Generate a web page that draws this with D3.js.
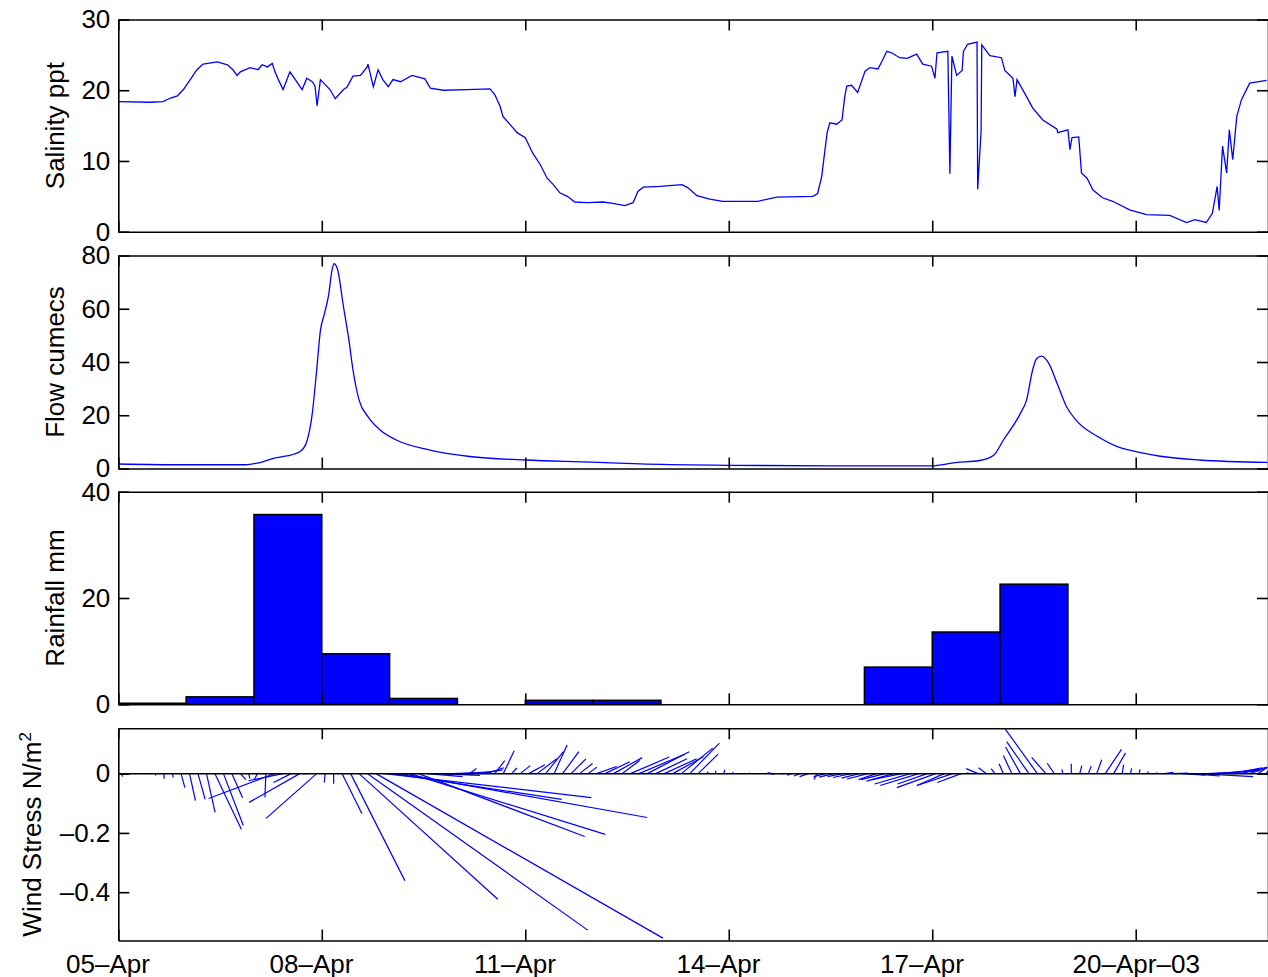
<!DOCTYPE html>
<html>
<head>
<meta charset="utf-8">
<script src="https://cdn.jsdelivr.net/npm/d3@7"></script>
<style>
body { margin: 0; background: #fff; }
svg { display: block; font-family: "Liberation Sans", Arial, Helvetica, sans-serif; }
</style>
</head>
<body>
<svg id="chart" width="1268" height="977"></svg>
<script>
"use strict"

// time axis: days since 05-Apr-2003 00:00
let xTickDay = [0, 3, 6, 9, 12, 15]
let xTickLabels = ["05–Apr", "08–Apr", "11–Apr", "14–Apr", "17–Apr", "20–Apr–03"]

// salinity (ppt)
let salDay = [0, 0.47, 0.66, 0.77, 0.87, 0.96, 1.06, 1.16, 1.25, 1.46,
    1.61, 1.69, 1.75, 1.80, 1.94, 2.06, 2.12, 2.20, 2.27, 2.31,
    2.36, 2.43, 2.53, 2.61, 2.71, 2.78, 2.86, 2.90, 2.93, 2.98,
    3.05, 3.12, 3.20, 3.32, 3.37, 3.46, 3.57, 3.67, 3.68, 3.76,
    3.83, 3.90, 3.98, 4.05, 4.16, 4.33, 4.52, 4.60, 4.79, 5.14,
    5.48, 5.55, 5.63, 5.67, 5.78, 5.88, 6.00, 6.11, 6.22, 6.32,
    6.41, 6.51, 6.62, 6.73, 6.91, 7.15, 7.29, 7.47, 7.59, 7.66,
    7.74, 7.99, 8.31, 8.40, 8.53, 8.72, 8.91, 9.43, 9.71, 10.24,
    10.31, 10.37, 10.45, 10.49, 10.59, 10.67, 10.71, 10.74, 10.81, 10.90,
    11.01, 11.08, 11.20, 11.27, 11.33, 11.40, 11.52, 11.63, 11.77, 11.86,
    11.99, 12.04, 12.07, 12.23, 12.26, 12.29, 12.36, 12.44, 12.46, 12.52,
    12.66, 12.67, 12.72, 12.73, 12.85, 13.02, 13.07, 13.19, 13.22, 13.25,
    13.39, 13.48, 13.63, 13.84, 13.85, 14.00, 14.03, 14.06, 14.16, 14.20,
    14.28, 14.37, 14.51, 14.66, 14.91, 15.16, 15.50, 15.75, 15.87, 16.04,
    16.13, 16.20, 16.23, 16.28, 16.34, 16.38, 16.43, 16.49, 16.56, 16.68,
    16.93]
let salVal = [18.4, 18.3, 18.4, 18.9, 19.2, 20.1, 21.5, 22.9, 23.7, 24.0,
    23.6, 22.9, 22.1, 22.6, 23.2, 22.9, 23.6, 23.3, 23.8, 22.6,
    21.5, 20.1, 22.6, 21.5, 20.1, 21.7, 21.2, 20.6, 17.8, 21.5,
    20.8, 20.1, 18.8, 20.1, 20.4, 22.0, 22.1, 23.3, 23.7, 20.5,
    22.9, 21.5, 20.5, 21.5, 21.2, 22.1, 21.6, 20.3, 20.0, 20.1,
    20.2, 19.4, 17.7, 16.3, 15.1, 14.0, 13.3, 11.1, 9.5, 7.6,
    6.7, 5.5, 5.0, 4.2, 4.1, 4.2, 4.0, 3.7, 4.1, 5.7,
    6.3, 6.4, 6.65, 6.2, 5.1, 4.6, 4.3, 4.3, 4.9, 5.0,
    5.4, 7.8, 14.0, 15.4, 15.2, 15.8, 19.1, 20.6, 20.7, 19.7,
    22.7, 23.2, 23.0, 24.3, 25.5, 25.3, 24.6, 24.5, 25.1, 23.7,
    23.4, 21.7, 25.3, 25.5, 8.2, 24.8, 22.1, 22.8, 25.5, 26.5,
    26.8, 6.0, 14.2, 26.4, 24.9, 24.6, 22.8, 21.7, 19.1, 21.5,
    19.1, 17.5, 15.8, 14.5, 14.0, 14.4, 11.6, 13.3, 13.4, 8.3,
    7.6, 5.9, 4.8, 4.3, 3.1, 2.4, 2.3, 1.3, 1.7, 1.3,
    2.6, 6.4, 3.0, 12.1, 8.3, 14.4, 10.2, 16.3, 18.7, 21.0,
    21.4]
let salTicks = [0, 10, 20, 30]

// river flow (cumecs)
let flowDay = [0, 0.97, 1.87, 2.05, 2.30, 2.48, 2.68, 2.77, 2.86, 2.92,
    2.98, 3.04, 3.10, 3.15, 3.18, 3.23, 3.32, 3.40, 3.46, 3.55,
    3.68, 3.86, 4.10, 4.58, 5.18, 6.00, 6.98, 7.69, 9.00, 10.53,
    11.98, 12.34, 12.70, 12.91, 13.05, 13.30, 13.39, 13.48, 13.54, 13.61,
    13.72, 13.84, 13.98, 14.14, 14.44, 14.73, 14.99, 15.34, 15.94, 16.94]
let flowVal = [1.7, 1.4, 1.4, 2.0, 3.9, 4.7, 6.4, 9.5, 20.7, 35.7,
    51.9, 58.2, 65, 74.4, 76.9, 75, 60.7, 48.2, 37, 25.7,
    19.5, 14.5, 10.7, 7.0, 4.5, 3.2, 2.4, 1.7, 1.2, 1.0,
    1.0, 2.2, 3.0, 5.1, 10.7, 20.7, 25.7, 37, 41.3, 42.2,
    39.4, 32, 23.2, 17.6, 12, 8.2, 6.4, 4.7, 3.2, 2.3]
let flowTicks = [0, 20, 40, 60, 80]

// daily rainfall (mm), one bar per day
let rainDay = [0, 1, 2, 3, 4, 5, 6, 7, 8, 9, 10, 11, 12, 13, 14, 15, 16]
let rainMm = [0.2, 1.4, 35.7, 9.5, 1.1, 0, 0.75, 0.75, 0, 0, 0, 7.0, 13.6, 22.6, 0, 0, 0]
let rainTicks = [0, 20, 40]

// wind stress (N/m^2), 3-hourly, hours since 05-Apr 00:00
let windHour = [1.2, 4.2, 7.2, 10.2, 13.2, 16.2, 19.2, 22.2, 25.2, 28.2,
    31.2, 34.2, 37.2, 40.2, 43.2, 46.2, 49.2, 52.2, 55.2, 58.2,
    61.2, 64.2, 67.2, 70.2, 73.2, 76.2, 79.2, 82.2, 85.2, 88.2,
    91.2, 94.2, 97.2, 100.2, 103.2, 106.2, 109.2, 112.2, 115.2, 118.2,
    121.2, 124.2, 127.2, 130.2, 133.2, 136.2, 139.2, 142.2, 145.2, 148.2,
    151.2, 154.2, 157.2, 160.2, 163.2, 166.2, 169.2, 172.2, 175.2, 178.2,
    181.2, 184.2, 187.2, 190.2, 193.2, 196.2, 199.2, 202.2, 205.2, 208.2,
    211.2, 214.2, 217.2, 220.2, 223.2, 226.2, 229.2, 232.2, 235.2, 238.2,
    241.2, 244.2, 247.2, 250.2, 253.2, 256.2, 259.2, 262.2, 265.2, 268.2,
    271.2, 274.2, 277.2, 280.2, 283.2, 286.2, 289.2, 292.2, 295.2, 298.2,
    301.2, 304.2, 307.2, 310.2, 313.2, 316.2, 319.2, 322.2, 325.2, 328.2,
    331.2, 334.2, 337.2, 340.2, 343.2, 346.2, 349.2, 352.2, 355.2, 358.2,
    361.2, 364.2, 367.2, 370.2, 373.2, 376.2, 379.2, 382.2, 385.2, 388.2,
    391.2, 394.2, 397.2, 400.2, 403.2, 406.2]
let windU = [0.003, 0, 0, 0, 0, 0, 0.002, 0.013, 0.02, 0.024,
    0.029, 0.089, 0.067, 0.036, 0.019, 0.003, -0.01, -0.003, -0.222, -0.116,
    -0.06, -0.171, -0.02, -0.171, -0.003, 0, 0.067, 0.183, 0.468, 0.743,
    0.968, 0.698, 0.569, 0.829, 0.659, 0.561, 0.12, 0.15, 0.1, 0.08,
    0.1, 0.024, 0.084, 0.06, 0.034, 0.037, 0.017, 0.034, 0.055, 0.066,
    0.06, 0.044, 0.055, 0.05, 0.044, 0.03, 0.068, 0.084, 0.097, 0.06,
    0.131, 0.152, 0.141, 0.105, 0.109, 0.103, 0.106, 0.1, 0.067, 0.005,
    0.003, 0.004, 0.003, 0, 0.002, 0, 0.015, -0.01, -0.01, -0.015,
    -0.02, -0.03, -0.01, -0.04, -0.05, -0.05, -0.06, -0.06, -0.07, -0.06,
    -0.08, -0.09, -0.1, -0.12, -0.13, -0.1, -0.131, -0.092, -0.12, -0.08,
    -0.01, -0.04, -0.027, -0.013, -0.015, -0.029, -0.05, -0.075, -0.109, -0.048,
    -0.024, -0.003, 0, 0.007, 0.01, 0.017, 0.055, 0.04, 0.005, 0.003,
    0.003, 0.002, 0.002, 0.03, 0.05, 0.08, 0.1, 0.184, 0.1, 0.15,
    0.12, 0.1, 0.09, 0.06, 0.03, 0.01]
let windV = [-0.01, -0.003, 0, -0.002, -0.006, -0.017, -0.013, -0.047, -0.091, -0.087,
    -0.131, -0.188, -0.175, -0.081, -0.02, -0.017, -0.02, -0.08, -0.084, -0.024,
    -0.03, -0.097, 0, -0.151, -0.03, -0.034, -0.135, -0.361, -0.424, -0.528,
    -0.555, -0.081, -0.087, -0.148, -0.205, -0.212, -0.01, -0.006, -0.002, 0.003,
    0.006, 0.017, 0.013, 0.02, 0.044, 0.077, 0.019, 0.027, 0.03, 0.05,
    0.074, 0.097, 0.074, 0.05, 0.034, 0.022, 0.024, 0.04, 0.054, 0.044,
    0.056, 0.064, 0.074, 0.05, 0.05, 0.057, 0.086, 0.103, 0.066, 0.007,
    0.01, 0.013, 0.005, 0.002, 0.003, 0, 0.004, -0.003, 0, -0.005,
    -0.008, -0.01, -0.02, -0.01, -0.012, -0.01, -0.013, -0.015, -0.018, -0.02,
    -0.02, -0.025, -0.02, -0.035, -0.04, -0.035, -0.047, -0.04, -0.04, -0.03,
    0.003, 0.017, 0.02, 0.017, 0.033, 0.061, 0.09, 0.108, 0.151, 0.055,
    0.035, 0.014, 0.033, 0.027, 0.025, 0.047, 0.082, 0.07, 0.03, 0.018,
    0.014, 0.008, 0.004, 0.004, 0.002, -0.005, -0.008, -0.01, 0.005, 0.01,
    0.015, 0.02, 0.022, 0.02, 0.02, 0.015]
let windTicks = [-0.4, -0.2, 0]

let start = Date.UTC(2003, 3, 5)
let dayMs = 864e5
function toDate(d) {
    return new Date(start + d * dayMs)
}

let svg = d3.select("#chart")
let left = 118.3
let right = 1268
let blue = "#0000ff"
let fontSize = 26

let x = d3.scaleUtc().domain([toDate(0), toDate(16.95)]).range([left, right])

let panels = [
    { id: "sal", top: 19.5, bottom: 231.7, domain: [0, 30], ticks: salTicks, title: "Salinity ppt", titleX: 64 },
    { id: "flow", top: 255.5, bottom: 468.5, domain: [0, 80], ticks: flowTicks, title: "Flow cumecs", titleX: 64 },
    { id: "rain", top: 491.7, bottom: 704.3, domain: [0, 40], ticks: rainTicks, title: "Rainfall mm", titleX: 64 },
    { id: "wind", top: 728.3, bottom: 940.5, domain: [-0.563, 0.153], ticks: windTicks, title: "Wind Stress N/m", titleX: 41 }
]

let maxLen = d3.max(xTickLabels, s => s.length)
let paddedLabels = xTickLabels.map(s => s.padEnd(maxLen, " "))

function styleAxis(g) {
    g.attr("font-size", fontSize).attr("font-family", null)
    g.selectAll("path, line").attr("stroke", "#000").attr("stroke-width", 1.6)
    g.selectAll("text").attr("fill", "#000")
}

panels.forEach(function (p, pi) {
    let y = d3.scaleLinear().domain(p.domain).range([p.bottom, p.top])
    p.y = y
    let g = svg.append("g").attr("class", "panel-" + p.id)

    g.append("clipPath").attr("id", "clip-" + p.id)
        .append("rect")
        .attr("x", left).attr("y", p.top)
        .attr("width", right - left).attr("height", p.bottom - p.top)

    let plot = g.append("g").attr("clip-path", "url(#clip-" + p.id + ")")

    if (p.id === "sal") {
        let line = d3.line()
            .x((d, i) => x(toDate(salDay[i])))
            .y(d => y(d))
        plot.append("path").datum(salVal)
            .attr("d", line)
            .attr("fill", "none").attr("stroke", blue).attr("stroke-width", 1.3)
    }

    if (p.id === "flow") {
        let line = d3.line()
            .x((d, i) => x(toDate(flowDay[i])))
            .y(d => y(d))
            .curve(d3.curveMonotoneX)
        plot.append("path").datum(flowVal)
            .attr("d", line)
            .attr("fill", "none").attr("stroke", blue).attr("stroke-width", 1.3)
    }

    if (p.id === "rain") {
        let bars = rainMm.map((v, i) => ({ day: rainDay[i], v: v })).filter(d => d.v > 0)
        plot.selectAll("rect.bar").data(bars).enter().append("rect")
            .attr("class", "bar")
            .attr("x", d => x(toDate(d.day)))
            .attr("width", d => x(toDate(d.day + 1)) - x(toDate(d.day)))
            .attr("y", d => y(d.v))
            .attr("height", d => y(0) - y(d.v))
            .attr("fill", blue).attr("stroke", "#000").attr("stroke-width", 1.5)
    }

    if (p.id === "wind") {
        // stick plot: equal pixel scale in both directions
        let k = y(0) - y(1)
        let sticks = windHour.map((h, i) => ({ t: h / 24, u: windU[i], v: windV[i] }))
        plot.selectAll("line.stick").data(sticks).enter().append("line")
            .attr("class", "stick")
            .attr("x1", d => x(toDate(d.t)))
            .attr("y1", y(0))
            .attr("x2", d => x(toDate(d.t)) + d.u * k)
            .attr("y2", d => y(d.v))
            .attr("stroke", blue).attr("stroke-width", 1.2)
        g.append("line")
            .attr("x1", left).attr("x2", right)
            .attr("y1", y(0)).attr("y2", y(0))
            .attr("stroke", "#000").attr("stroke-width", 1.5)
    }

    let fmt = p.id === "wind" ? (d => d === 0 ? "0" : d3.format(".1f")(d).replace("−", "–").replace("-", "–")) : d3.format("d")

    g.append("g").attr("transform", "translate(" + left + ",0)")
        .call(d3.axisLeft(y).tickValues(p.ticks).tickFormat(fmt).tickSize(-11).tickSizeOuter(0).tickPadding(8))
        .call(styleAxis)
    g.append("g").attr("transform", "translate(" + right + ",0)")
        .call(d3.axisRight(y).tickValues(p.ticks).tickFormat("").tickSize(-11).tickSizeOuter(0))
        .call(styleAxis)
    g.append("g").attr("transform", "translate(0," + p.top + ")")
        .call(d3.axisTop(x).tickValues(xTickDay.map(toDate)).tickFormat("").tickSize(-11).tickSizeOuter(0))
        .call(styleAxis)

    let bottomAxis = d3.axisBottom(x).tickValues(xTickDay.map(toDate)).tickSize(-11).tickSizeOuter(0).tickPadding(14)
    if (p.id === "wind") {
        bottomAxis.tickFormat((d, i) => paddedLabels[i])
    } else {
        bottomAxis.tickFormat("")
    }
    let bg = g.append("g").attr("transform", "translate(0," + p.bottom + ")")
        .call(bottomAxis)
        .call(styleAxis)
    bg.selectAll("text").attr("xml:space", "preserve").style("white-space", "pre")

    // axis title
    let cy = (p.top + p.bottom) / 2
    let t = g.append("text")
        .attr("transform", "translate(" + p.titleX + "," + cy + ") rotate(-90)")
        .attr("text-anchor", "middle")
        .attr("font-size", fontSize)
        .attr("fill", "#000")
        .text(p.title)
    if (p.id === "wind") {
        t.append("tspan").attr("dy", "-0.6em").attr("font-size", 17).text("2")
    }
})
</script>
</body>
</html>
